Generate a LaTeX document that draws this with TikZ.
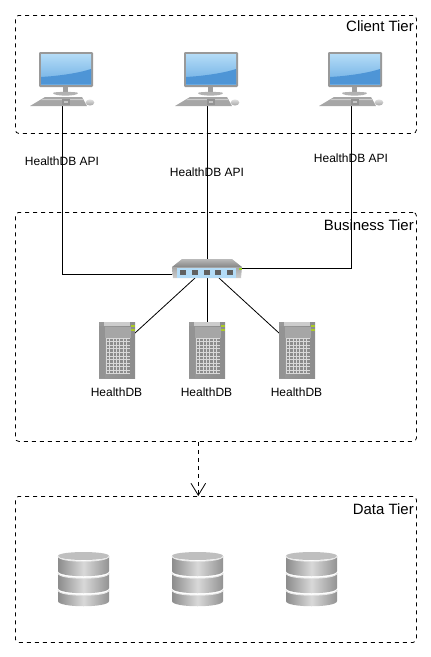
\documentclass[tikz,border=0pt]{standalone}
\usepackage{fontspec}
\setmainfont{Liberation Sans}
\usetikzlibrary{arrows.meta}
\newcommand{\dbband}[2]{%
  \shade[left color=gray!90,right color=gray!85,middle color=gray!30]
    (0,#1) -- (0,#2) .. controls (0,#2+7) and (51,#2+7) .. (51,#2) -- (51,#1)
    .. controls (51,#1+7) and (0,#1+7) .. (0,#1) -- cycle;
}
\newcommand{\dbrim}[1]{%
  \draw[gray!18,line width=0.7pt] (0,#1) .. controls (0,#1+7) and (51,#1+7) .. (51,#1);
}
\tikzset{
  tier/.style={draw=black,dashed,rounded corners=2.5pt,line width=0.6pt,inner sep=0pt,anchor=north west},
  tiertitle/.style={anchor=east,font=\fontsize{11.2pt}{13pt}\selectfont,inner sep=0pt},
  smalltext/.style={font=\fontsize{9pt}{11pt}\selectfont,inner sep=0pt},
  iconbox/.style={anchor=north west,inner sep=0pt,outer sep=0pt},
  link/.style={draw=black,line width=0.6pt},
  pics/computer/.style={code={
    % screen
    \fill[rounded corners=0.8pt,gray!80] (0,0) rectangle (54,35);
    \shade[top color=scrB,bottom color=scrC] (2,2) rectangle (52,32);
    \fill[scrA] (2,32) -- (2,25) .. controls (20,24) and (40,21) .. (52,17) -- (52,32) -- cycle;
    % stand
    \fill[gray!75] (24,35) rectangle (29,42);
    \fill[gray!60] (14,41) .. controls (14,44.5) and (39,44.5) .. (39,41)
       .. controls (39,39.5) and (14,39.5) .. (14,41) -- cycle;
    % keyboard
    \fill[gray!70] (6,45) -- (43,45) -- (48,54) -- (-9,54) -- cycle;
    \fill[gray!40] (4,47) -- (44,47) -- (45,48) -- (2,48) -- cycle;
    \fill[gray!85] (23,47) rectangle (31,53);
    \fill[gray!45] (25,49) rectangle (29,51);
    % mouse
    \shade[top color=gray!25,bottom color=gray!70] (51,50.5) circle[x radius=3.2pt,y radius=2.3pt];
  }},
  pics/switchbox/.style={code={
    \shade[top color=gray!55,bottom color=gray!95] (10,0) -- (60,0) -- (70,8) -- (0,8) -- cycle;
    \shade[top color=gray!70,bottom color=gray!40] (0,8) -- (70,8) -- (69,19) -- (1,19) -- cycle;
    \fill[scrB] (5,9) rectangle (64,18.5);
    \foreach \px in {11,23,35,46,58}{
      \fill[gray!75!black] (\px-2.8,10.5) rectangle (\px+2.8,16);
    }
    \fill[yellow!60!green] (66.5,8.5) rectangle (69.5,10.5);
  }},
  pics/serverbox/.style={code={
    \shade[left color=gray!80,right color=gray!90] (0,0) rectangle (36,56);
    \fill[gray!85] (0,4) rectangle (6,56);
    \fill[gray!40] (5,0) rectangle (31,4);
    \fill[gray!70] (6,5) rectangle (32,16);
    \fill[gray!30] (7,16) rectangle (31,52);
    \foreach \cx in {0,1,2,3,4,5,6}{
      \foreach \cy in {0,1,2,3,4,5,6,7,8,9}{
        \fill[gray!90] (7.8+\cx*3.4,16.8+\cy*3.55) rectangle +(2.4,2.5);
      }
    }
    \fill[yellow!70!green!90!black] (32,3) rectangle (36,5);
    \fill[yellow!70!green!90!black] (32,6.5) rectangle (36,8.5);
  }},
  pics/dbstack/.style={code={
    \dbband{38}{49}
    \dbband{21}{36}
    \dbband{4}{19}
    \fill[gray!50] (0,4) .. controls (0,-1.3) and (51,-1.3) .. (51,4)
       .. controls (51,9.3) and (0,9.3) .. (0,4) -- cycle;
    \dbrim{4}
    \dbrim{21}
    \dbrim{38}
  }},
}
\definecolor{scrA}{HTML}{4E95D6}
\definecolor{scrC}{HTML}{6CADE3}
\definecolor{scrB}{HTML}{B4DCF7}
\begin{document}
\begin{tikzpicture}[x=0.75pt,y=-0.75pt]
\useasboundingbox (0,0) rectangle (431,657);
% tiers
\node[tier,minimum width=300.75pt,minimum height=88.5pt] (client) at (15,15) {};
\node[tier,minimum width=300.75pt,minimum height=171.75pt] (business) at (15,212) {};
\node[tier,minimum width=300.75pt,minimum height=109.5pt] (data) at (15,496) {};
\node[tiertitle] (clientT) at (414,26) {Client Tier};
\node[tiertitle] (businessT) at (414,225) {Business Tier};
\node[tiertitle] (dataT) at (414,509) {Data Tier};
% anchor boxes
\node[iconbox,minimum width=48pt,minimum height=39.75pt] (pc1) at (30,52) {};
\node[iconbox,minimum width=48pt,minimum height=39.75pt] (pc2) at (175,52) {};
\node[iconbox,minimum width=48pt,minimum height=39.75pt] (pc3) at (319,52) {};
\node[iconbox,minimum width=52.5pt,minimum height=14.25pt] (sw) at (172,259) {};
\node[iconbox,minimum width=27pt,minimum height=42pt] (srv1) at (99,322) {};
\node[iconbox,minimum width=27pt,minimum height=42pt] (srv2) at (189,322) {};
\node[iconbox,minimum width=27pt,minimum height=42pt] (srv3) at (279,322) {};
% connectors
\draw[link] (pc1.south) |- ([yshift=-4.1pt]sw.west);
\draw[link] (pc2.south) -- (sw.north);
\draw[link] (pc3.south) |- (sw.east);
\draw[link] ([xshift=-9pt]sw.south) -- ([yshift=-8.25pt]srv1.north east);
\draw[link] (sw.south) -- (srv2.north);
\draw[link] ([xshift=9pt]sw.south) -- ([yshift=-8.25pt]srv3.north west);
\draw[link,dashed,-{Straight Barb[length=9pt,width=11pt,line width=0.6pt]}]
  ([xshift=-13.2pt]business.south) -- ([xshift=-13.2pt]data.north);
% icons
\pic at (39,52) {computer};
\pic at (184,52) {computer};
\pic at (328,52) {computer};
\pic at (172,259) {switchbox};
\pic at (99,322) {serverbox};
\pic at (189,322) {serverbox};
\pic at (279,322) {serverbox};
\pic at (58,552) {dbstack};
\pic at (172,552) {dbstack};
\pic at (286,552) {dbstack};
% labels
\node[smalltext] (api1) at (62,161) {HealthDB API};
\node[smalltext] (api2) at (207,172) {HealthDB API};
\node[smalltext] (api3) at (351,158) {HealthDB API};
\node[smalltext] (db1) at (116.5,392.5) {HealthDB};
\node[smalltext] (db2) at (206.5,392.5) {HealthDB};
\node[smalltext] (db3) at (296.5,392.5) {HealthDB};
\end{tikzpicture}
\end{document}
